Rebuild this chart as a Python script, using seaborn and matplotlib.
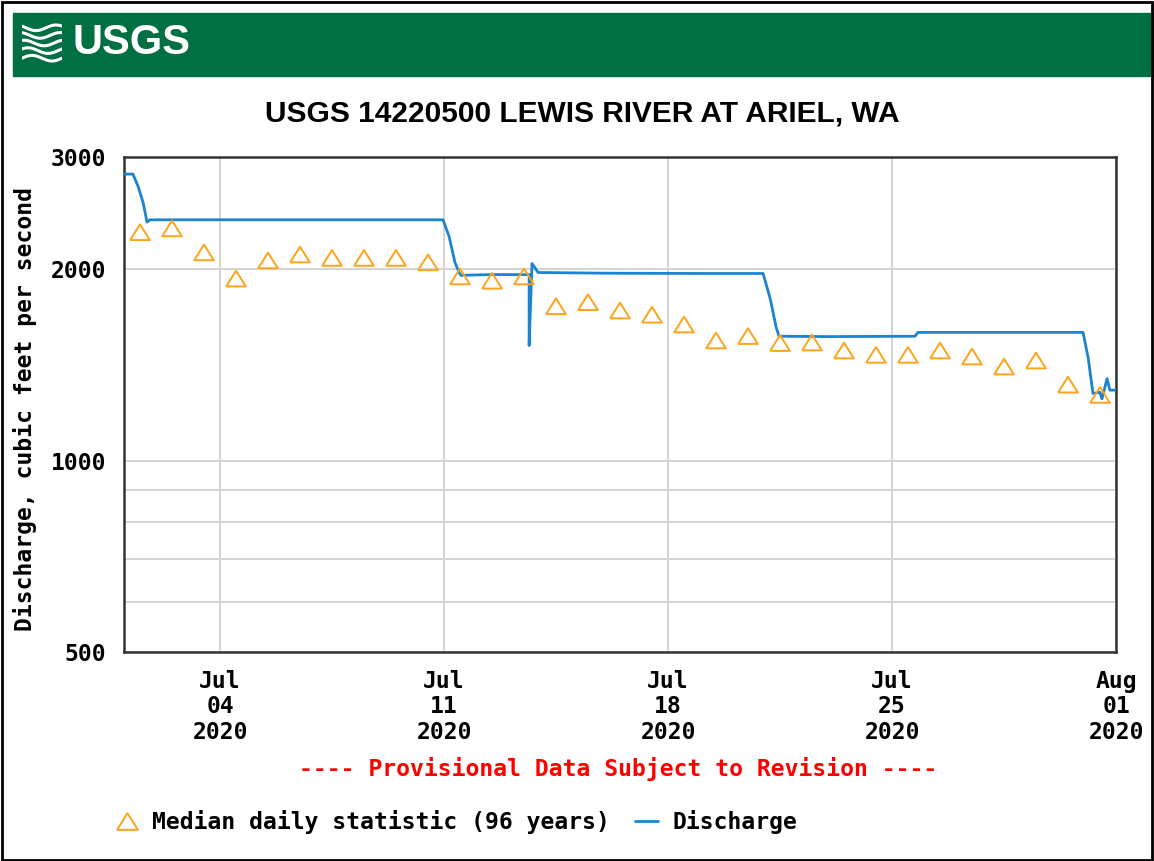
import matplotlib
matplotlib.use("Agg")
import matplotlib.pyplot as plt
import matplotlib.dates as mdates
import matplotlib.ticker as tick
from matplotlib.lines import Line2D
from matplotlib.patches import Rectangle
import numpy as np
import pandas as pd
import seaborn as sns

# median daily statistic (96 years), one value per day at noon, Jul 1 - Jul 31
median_days = pd.date_range("2020-07-01 12:00", periods=31, freq="D")
median_cfs = [2285, 2317, 2124, 1932, 2063, 2108, 2082, 2082, 2082, 2049,
              1947, 1917, 1947, 1748, 1774, 1721, 1695, 1636, 1544, 1569,
              1530, 1533, 1489, 1466, 1466, 1489, 1457, 1405, 1436, 1316,
              1268]

# discharge (days since Jul 1 00:00, cfs)
q_days = [0.00, 0.28, 0.45, 0.60, 0.72, 0.81, 3.00, 6.00, 9.97,
          10.16, 10.34, 10.47, 10.53, 11.50, 12.66, 12.66, 12.75, 12.84,
          12.94, 15.00, 18.00, 19.97, 20.19, 20.38, 20.47, 22.00, 24.72,
          24.81, 27.00, 29.97, 30.13, 30.28, 30.50, 30.56, 30.63, 30.72,
          30.81, 31.00]
q_cfs = [2820, 2820, 2690, 2540, 2370, 2390, 2390, 2390, 2390,
         2250, 2050, 1975, 1955, 1960, 1960, 1516, 2040, 2010,
         1975, 1970, 1968, 1968, 1800, 1620, 1568, 1566, 1568,
         1590, 1590, 1590, 1450, 1275, 1280, 1250, 1290, 1345,
         1290, 1290]

start = pd.Timestamp("2020-07-01")
q_time = [start + pd.Timedelta(days=d) for d in q_days]
tick_dates = ["2020-07-04", "2020-07-11", "2020-07-18", "2020-07-25", "2020-08-01"]

title = "USGS 14220500 LEWIS RIVER AT ARIEL, WA"
ylabel = "Discharge, cubic feet per second"
provisional = "---- Provisional Data Subject to Revision ----"
legend_labels = ["Median daily statistic (96 years)", "Discharge"]

orange = "#ffa31a"
blue = "#1a84d0"
green = "#006f41"
mono = "DejaVu Sans Mono"
fs = 16.6
tri = [(-1, -0.8), (1, -0.8), (0, 0.8), (-1, -0.8)]

sns.set_style("white")
plt.rcParams["font.family"] = mono
plt.rcParams["font.weight"] = "bold"
plt.rcParams["text.color"] = "black"
plt.rcParams["xtick.color"] = "black"
plt.rcParams["ytick.color"] = "black"
plt.rcParams["axes.labelcolor"] = "black"

fig = plt.figure(figsize=(11.54, 8.61), dpi=100)
W, H = 1154, 861
ax = fig.add_axes([124 / W, 1 - 652 / H, 992 / W, 495 / H])

df_q = pd.DataFrame({"time": q_time, "cfs": q_cfs})
df_m = pd.DataFrame({"time": median_days, "cfs": median_cfs})

sns.lineplot(data=df_q, x="time", y="cfs", ax=ax, color=blue, linewidth=2.0,
             estimator=None, sort=False, zorder=3)
sns.scatterplot(data=df_m, x="time", y="cfs", ax=ax, marker=tri, s=200, zorder=4)
pts = ax.collections[-1]
pts.set_facecolor("none")
pts.set_edgecolor(orange)
pts.set_linewidth(1.4)

ax.set_yscale("log")
ax.set_ylim(500, 3000)
ax.yaxis.set_major_locator(tick.FixedLocator([500, 1000, 2000, 3000]))
ax.yaxis.set_major_formatter(tick.FixedFormatter(["500", "1000", "2000", "3000"]))
ax.yaxis.set_minor_locator(tick.FixedLocator([600, 700, 800, 900]))
ax.yaxis.set_minor_formatter(tick.NullFormatter())

ax.set_xlim(start, pd.Timestamp("2020-08-01"))
ax.xaxis.set_major_locator(tick.FixedLocator(mdates.date2num(pd.to_datetime(tick_dates))))
ax.xaxis.set_major_formatter(mdates.DateFormatter("%b\n%d\n%Y"))

ax.grid(which="both", color="#d4d4d4", linewidth=1.4)
ax.set_axisbelow(True)
ax.tick_params(which="both", length=0)
ax.tick_params(axis="y", pad=13, labelsize=fs)
ax.tick_params(axis="x", pad=13, labelsize=fs)
for lab in ax.get_xticklabels():
    lab.set_linespacing(1.13)
for s in ax.spines.values():
    s.set_color("#333333")
    s.set_linewidth(1.8)

ax.set_xlabel("")
ax.set_ylabel(ylabel, fontsize=fs, fontweight="bold")
ax.yaxis.set_label_coords(-0.0877, 0.49)

# banner
fig.patches.append(Rectangle((13 / W, 1 - 76 / H), 1 - 13 / W, 63 / H,
                             transform=fig.transFigure, color=green, zorder=0))
logo = fig.add_axes([22 / W, 1 - 63 / H, 40 / W, 40 / H], zorder=2)
logo.set_xlim(0, 1)
logo.set_ylim(0, 1)
logo.axis("off")
u = np.linspace(0, 1, 50)
for k in range(5):
    logo.plot(u, 0.12 + 0.19 * k + 0.07 * np.sin(2 * np.pi * (u + 0.1 * k)),
              color="white", linewidth=2.2)
fig.text(73 / W, 1 - 43 / H, "USGS", color="white", fontsize=30, fontweight="bold",
         family=["Liberation Sans Narrow", "Liberation Sans"], ha="left", va="center")

fig.text(582 / W, 1 - 113 / H, title, fontsize=21.5, fontweight="bold",
         family=["Liberation Sans Narrow", "Liberation Sans"], ha="center", va="center")

fig.text(618 / W, 1 - 769 / H, provisional, color="red", fontsize=fs,
         fontweight="bold", ha="center", va="center")

handles = [Line2D([], [], linestyle="none", marker=tri, markersize=15,
                  markerfacecolor="none", markeredgecolor=orange, markeredgewidth=1.4),
           Line2D([], [], color=blue, linewidth=2.0)]
fig.legend(handles, legend_labels, loc="center left", bbox_to_anchor=(115 / W, 1 - 822 / H),
           ncol=2, frameon=False, fontsize=fs, handlelength=1.0, handletextpad=0.6,
           columnspacing=1.1, borderpad=0, borderaxespad=0)

# outer frame
fig.patches.append(Rectangle((0.002, 0.001), 0.996, 0.997, transform=fig.transFigure,
                             fill=False, edgecolor="black", linewidth=2, zorder=10))

fig.savefig("out.png", dpi=100)
